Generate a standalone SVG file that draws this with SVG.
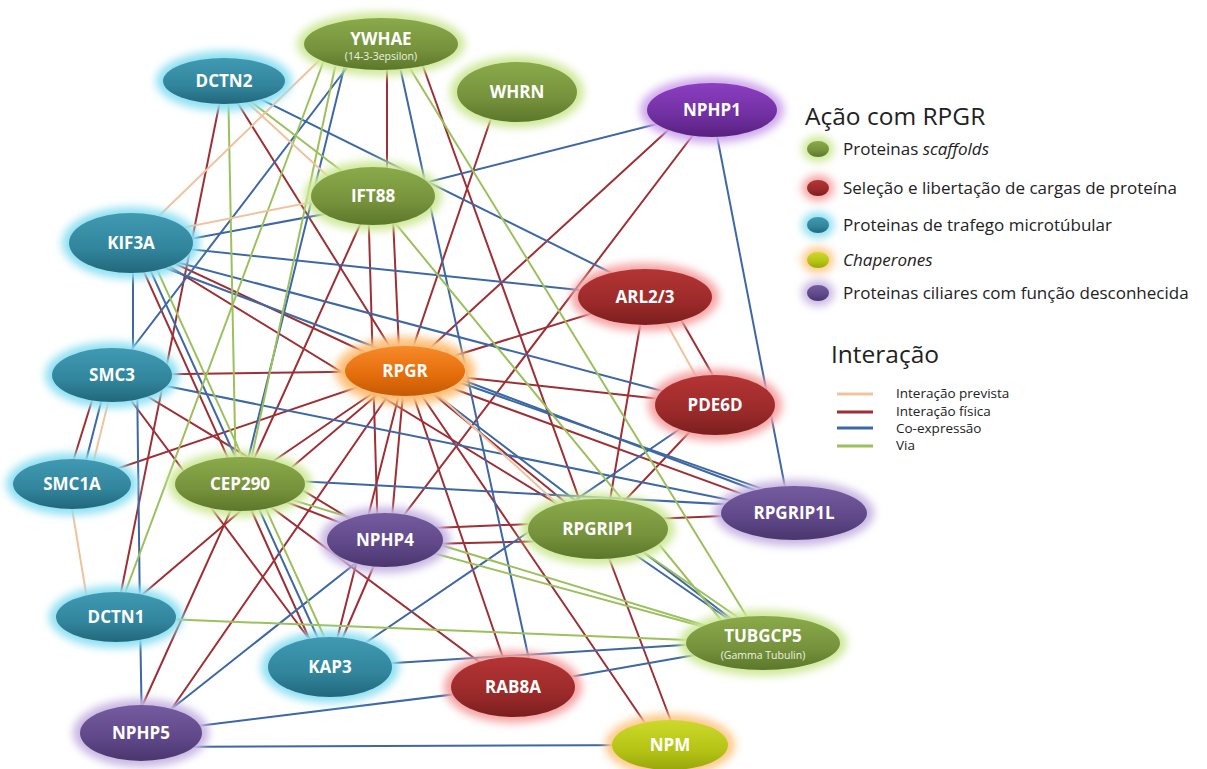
<svg xmlns="http://www.w3.org/2000/svg" width="1207" height="769" viewBox="0 0 1207 769">
<defs>
<filter id="blur" x="-30%" y="-40%" width="160%" height="180%"><feGaussianBlur stdDeviation="4"/></filter>
<linearGradient id="gGreen" x1="0" y1="0" x2="0" y2="1"><stop offset="0" stop-color="#8aaa4a"/><stop offset="0.6" stop-color="#76923c"/><stop offset="1" stop-color="#5b772a"/></linearGradient>
<linearGradient id="gTeal" x1="0" y1="0" x2="0" y2="1"><stop offset="0" stop-color="#409ab2"/><stop offset="0.6" stop-color="#31859c"/><stop offset="1" stop-color="#22677b"/></linearGradient>
<linearGradient id="gRed" x1="0" y1="0" x2="0" y2="1"><stop offset="0" stop-color="#b43434"/><stop offset="0.6" stop-color="#9c2a2a"/><stop offset="1" stop-color="#7a1e1e"/></linearGradient>
<linearGradient id="gOrange" x1="0" y1="0" x2="0" y2="1"><stop offset="0" stop-color="#f78a2a"/><stop offset="0.6" stop-color="#e46c0a"/><stop offset="1" stop-color="#c45a05"/></linearGradient>
<linearGradient id="gPurple" x1="0" y1="0" x2="0" y2="1"><stop offset="0" stop-color="#755ca0"/><stop offset="0.6" stop-color="#5f4788"/><stop offset="1" stop-color="#4a366d"/></linearGradient>
<linearGradient id="gViolet" x1="0" y1="0" x2="0" y2="1"><stop offset="0" stop-color="#8c3ec2"/><stop offset="0.6" stop-color="#7030a0"/><stop offset="1" stop-color="#57207e"/></linearGradient>
<linearGradient id="gYellow" x1="0" y1="0" x2="0" y2="1"><stop offset="0" stop-color="#ccd92c"/><stop offset="0.6" stop-color="#b5c414"/><stop offset="1" stop-color="#98a60c"/></linearGradient>
<style>
.edges line{stroke-width:2;fill:none;stroke-linecap:round}
.p{stroke:#9e2f34}
.c{stroke:#3d68a5}
.w{stroke:#9cc05c}
.b{stroke:#f0c39f}
.glow{filter:url(#blur)}
.green .glow{fill:#cfe89a}.green .body{fill:url(#gGreen)}
.teal .glow{fill:#8fe0f2}.teal .body{fill:url(#gTeal)}
.red .glow{fill:#f5a3a3}.red .body{fill:url(#gRed)}
.orange .glow{fill:#ffc07a}.orange .body{fill:url(#gOrange)}
.purple .glow{fill:#c8b6e2}.purple .body{fill:url(#gPurple)}
.violet .glow{fill:#cfa8ec}.violet .body{fill:url(#gViolet)}
.yellow .glow{fill:#ffc98a}.yellow .body{fill:url(#gYellow)}
.lbl{font-family:"Open Sans","Noto Sans",sans-serif;font-weight:bold;font-size:17px;fill:#fff;text-anchor:middle}
.sub{font-family:"Open Sans","Noto Sans",sans-serif;font-size:10.5px;fill:#eef3e2;text-anchor:middle}
.lg{font-family:"Open Sans","Noto Sans",sans-serif;fill:#222}
.lgt{font-size:24.5px}
.lgi{font-size:17px}
.lgs{font-size:13.5px}
.legline{stroke-width:3}
</style>
</defs>
<rect width="1207" height="769" fill="#fff"/>
<g id="connectors" class="edges">
<line class="p" x1="405" y1="371" x2="112" y2="375"/>
<line class="p" x1="405" y1="371" x2="72" y2="484"/>
<line class="p" x1="405" y1="371" x2="131" y2="243"/>
<line class="p" x1="405" y1="371" x2="224" y2="81"/>
<line class="p" x1="400" y1="371" x2="392" y2="196"/>
<line class="p" x1="405" y1="371" x2="500" y2="92"/>
<line class="p" x1="405" y1="371" x2="690" y2="110"/>
<line class="p" x1="405" y1="371" x2="645" y2="297"/>
<line class="p" x1="405" y1="371" x2="715" y2="405"/>
<line class="p" x1="405" y1="371" x2="794" y2="513"/>
<line class="p" x1="405" y1="371" x2="598" y2="529"/>
<line class="p" x1="405" y1="371" x2="240" y2="484"/>
<line class="p" x1="405" y1="371" x2="390" y2="540"/>
<line class="p" x1="405" y1="371" x2="330" y2="667"/>
<line class="p" x1="405" y1="371" x2="513" y2="687"/>
<line class="p" x1="405" y1="371" x2="155" y2="733"/>
<line class="p" x1="405" y1="371" x2="116" y2="617"/>
<line class="p" x1="405" y1="371" x2="660" y2="745"/>
<line class="p" x1="387" y1="44" x2="387" y2="196"/>
<line class="p" x1="415" y1="44" x2="590" y2="529"/>
<line class="p" x1="368" y1="196" x2="378" y2="540"/>
<line class="p" x1="373" y1="196" x2="130" y2="733"/>
<line class="p" x1="712" y1="110" x2="385" y2="540"/>
<line class="p" x1="224" y1="81" x2="116" y2="617"/>
<line class="p" x1="100" y1="375" x2="66" y2="484"/>
<line class="p" x1="112" y1="375" x2="330" y2="667"/>
<line class="p" x1="131" y1="243" x2="322" y2="667"/>
<line class="p" x1="240" y1="484" x2="385" y2="540"/>
<line class="p" x1="240" y1="484" x2="513" y2="687"/>
<line class="p" x1="385" y1="540" x2="330" y2="667"/>
<line class="p" x1="385" y1="530" x2="794" y2="513"/>
<line class="p" x1="385" y1="545" x2="598" y2="540"/>
<line class="p" x1="668" y1="297" x2="730" y2="405"/>
<line class="p" x1="645" y1="297" x2="605" y2="529"/>
<line class="p" x1="715" y1="405" x2="598" y2="529"/>
<line class="p" x1="598" y1="529" x2="680" y2="745"/>
<line class="p" x1="131" y1="243" x2="598" y2="529"/>
<line class="p" x1="112" y1="375" x2="385" y2="540"/>
<line class="c" x1="133" y1="243" x2="133" y2="375"/>
<line class="c" x1="131" y1="250" x2="373" y2="205"/>
<line class="c" x1="131" y1="243" x2="645" y2="297"/>
<line class="c" x1="131" y1="250" x2="715" y2="405"/>
<line class="c" x1="131" y1="255" x2="794" y2="505"/>
<line class="c" x1="138" y1="243" x2="331" y2="667"/>
<line class="c" x1="224" y1="81" x2="660" y2="297"/>
<line class="c" x1="373" y1="196" x2="712" y2="110"/>
<line class="c" x1="712" y1="110" x2="790" y2="513"/>
<line class="c" x1="365" y1="44" x2="112" y2="375"/>
<line class="c" x1="350" y1="44" x2="242" y2="484"/>
<line class="c" x1="395" y1="44" x2="535" y2="687"/>
<line class="c" x1="108" y1="375" x2="80" y2="484"/>
<line class="c" x1="137" y1="375" x2="140" y2="617"/>
<line class="c" x1="112" y1="375" x2="794" y2="513"/>
<line class="c" x1="240" y1="478" x2="794" y2="508"/>
<line class="c" x1="140" y1="617" x2="142" y2="733"/>
<line class="c" x1="141" y1="733" x2="385" y2="540"/>
<line class="c" x1="141" y1="733" x2="513" y2="687"/>
<line class="c" x1="141" y1="747" x2="670" y2="745"/>
<line class="c" x1="330" y1="667" x2="763" y2="640"/>
<line class="c" x1="330" y1="667" x2="715" y2="405"/>
<line class="c" x1="513" y1="687" x2="763" y2="643"/>
<line class="c" x1="598" y1="529" x2="763" y2="643"/>
<line class="c" x1="405" y1="371" x2="763" y2="643"/>
<line class="c" x1="410" y1="365" x2="794" y2="500"/>
<line class="w" x1="224" y1="81" x2="360" y2="185"/>
<line class="w" x1="228" y1="81" x2="236" y2="484"/>
<line class="w" x1="340" y1="44" x2="246" y2="484"/>
<line class="w" x1="330" y1="44" x2="116" y2="617"/>
<line class="w" x1="395" y1="44" x2="763" y2="643"/>
<line class="w" x1="373" y1="196" x2="740" y2="643"/>
<line class="w" x1="145" y1="243" x2="338" y2="667"/>
<line class="w" x1="385" y1="540" x2="763" y2="643"/>
<line class="w" x1="116" y1="617" x2="763" y2="643"/>
<line class="w" x1="610" y1="529" x2="775" y2="643"/>
<line class="w" x1="240" y1="484" x2="763" y2="643"/>
<line class="b" x1="131" y1="243" x2="330" y2="50"/>
<line class="b" x1="131" y1="238" x2="373" y2="190"/>
<line class="b" x1="224" y1="81" x2="345" y2="192"/>
<line class="b" x1="115" y1="375" x2="88" y2="484"/>
<line class="b" x1="68" y1="484" x2="90" y2="617"/>
<line class="b" x1="652" y1="297" x2="712" y2="405"/>
<line class="b" x1="412" y1="371" x2="585" y2="529"/>
</g>
<g id="n-YWHAE" class="green"><ellipse class="glow" cx="381" cy="44" rx="84" ry="32"/><ellipse class="body" cx="381" cy="44" rx="77" ry="26"/><text class="lbl" x="381" y="45">YWHAE</text><text class="sub" x="381" y="60">(14-3-3epsilon)</text></g>
<g id="n-DCTN2" class="teal"><ellipse class="glow" cx="224" cy="81" rx="68" ry="30"/><ellipse class="body" cx="224" cy="81" rx="61" ry="23"/><text class="lbl" x="224" y="87">DCTN2</text></g>
<g id="n-WHRN" class="green"><ellipse class="glow" cx="517" cy="92" rx="67" ry="36"/><ellipse class="body" cx="517" cy="92" rx="60" ry="30"/><text class="lbl" x="517" y="98">WHRN</text></g>
<g id="n-NPHP1" class="violet"><ellipse class="glow" cx="712" cy="110" rx="72" ry="33"/><ellipse class="body" cx="712" cy="110" rx="65" ry="27"/><text class="lbl" x="712" y="116">NPHP1</text></g>
<g id="n-IFT88" class="green"><ellipse class="glow" cx="373" cy="196" rx="69" ry="35"/><ellipse class="body" cx="373" cy="196" rx="62" ry="29"/><text class="lbl" x="373" y="202">IFT88</text></g>
<g id="n-KIF3A" class="teal"><ellipse class="glow" cx="131" cy="243" rx="69" ry="36"/><ellipse class="body" cx="131" cy="243" rx="62" ry="30"/><text class="lbl" x="131" y="249">KIF3A</text></g>
<g id="n-ARL23" class="red"><ellipse class="glow" cx="645" cy="297" rx="74" ry="34"/><ellipse class="body" cx="645" cy="297" rx="67" ry="28"/><text class="lbl" x="645" y="303">ARL2/3</text></g>
<g id="n-SMC3" class="teal"><ellipse class="glow" cx="112" cy="375" rx="67" ry="33"/><ellipse class="body" cx="112" cy="375" rx="60" ry="27"/><text class="lbl" x="112" y="381">SMC3</text></g>
<g id="n-RPGR" class="orange"><ellipse class="glow" cx="405" cy="371" rx="70" ry="34"/><ellipse class="body" cx="405" cy="371" rx="60" ry="25"/><text class="lbl" x="405" y="377">RPGR</text></g>
<g id="n-PDE6D" class="red"><ellipse class="glow" cx="715" cy="405" rx="67" ry="36"/><ellipse class="body" cx="715" cy="405" rx="60" ry="30"/><text class="lbl" x="715" y="411">PDE6D</text></g>
<g id="n-SMC1A" class="teal"><ellipse class="glow" cx="72" cy="484" rx="66" ry="31"/><ellipse class="body" cx="72" cy="484" rx="59" ry="25"/><text class="lbl" x="72" y="490">SMC1A</text></g>
<g id="n-CEP290" class="green"><ellipse class="glow" cx="240" cy="484" rx="72" ry="33"/><ellipse class="body" cx="240" cy="484" rx="65" ry="27"/><text class="lbl" x="240" y="490">CEP290</text></g>
<g id="n-RPGRIP1L" class="purple"><ellipse class="glow" cx="794" cy="513" rx="80" ry="33"/><ellipse class="body" cx="794" cy="513" rx="73" ry="27"/><text class="lbl" x="794" y="519">RPGRIP1L</text></g>
<g id="n-NPHP4" class="purple"><ellipse class="glow" cx="385" cy="540" rx="65" ry="33"/><ellipse class="body" cx="385" cy="540" rx="58" ry="27"/><text class="lbl" x="385" y="546">NPHP4</text></g>
<g id="n-RPGRIP1" class="green"><ellipse class="glow" cx="598" cy="529" rx="77" ry="36"/><ellipse class="body" cx="598" cy="529" rx="70" ry="30"/><text class="lbl" x="598" y="535">RPGRIP1</text></g>
<g id="n-DCTN1" class="teal"><ellipse class="glow" cx="116" cy="617" rx="67" ry="31"/><ellipse class="body" cx="116" cy="617" rx="60" ry="25"/><text class="lbl" x="116" y="623">DCTN1</text></g>
<g id="n-TUBGCP5" class="green"><ellipse class="glow" cx="763" cy="643" rx="84" ry="33"/><ellipse class="body" cx="763" cy="643" rx="77" ry="27"/><text class="lbl" x="763" y="642">TUBGCP5</text><text class="sub" x="763" y="659">(Gamma Tubulin)</text></g>
<g id="n-KAP3" class="teal"><ellipse class="glow" cx="330" cy="667" rx="69" ry="36"/><ellipse class="body" cx="330" cy="667" rx="62" ry="30"/><text class="lbl" x="330" y="673">KAP3</text></g>
<g id="n-RAB8A" class="red"><ellipse class="glow" cx="513" cy="687" rx="69" ry="36"/><ellipse class="body" cx="513" cy="687" rx="62" ry="30"/><text class="lbl" x="513" y="693">RAB8A</text></g>
<g id="n-NPHP5" class="purple"><ellipse class="glow" cx="141" cy="733" rx="68" ry="34"/><ellipse class="body" cx="141" cy="733" rx="61" ry="28"/><text class="lbl" x="141" y="739">NPHP5</text></g>
<g id="n-NPM" class="yellow"><ellipse class="glow" cx="670" cy="745" rx="65" ry="31"/><ellipse class="body" cx="670" cy="745" rx="58" ry="25"/><text class="lbl" x="670" y="751">NPM</text></g>
<g id="legend">
<text class="lg lgt" x="805" y="125">Ação com RPGR</text>
<g class="green"><ellipse class="glow" cx="818" cy="149" rx="16" ry="13"/><ellipse class="body" cx="818" cy="149" rx="11" ry="8"/></g>
<text class="lg lgi" x="843" y="155">Proteinas <tspan font-style="italic">scaffolds</tspan></text>
<g class="red"><ellipse class="glow" cx="818" cy="188" rx="16" ry="13"/><ellipse class="body" cx="818" cy="188" rx="11" ry="8"/></g>
<text class="lg lgi" x="843" y="194">Seleção e libertação de cargas de proteína</text>
<g class="teal"><ellipse class="glow" cx="818" cy="225" rx="16" ry="13"/><ellipse class="body" cx="818" cy="225" rx="11" ry="8"/></g>
<text class="lg lgi" x="843" y="231">Proteinas de trafego microtúbular</text>
<g class="yellow"><ellipse class="glow" cx="818" cy="260" rx="16" ry="13"/><ellipse class="body" cx="818" cy="260" rx="11" ry="8"/></g>
<text class="lg lgi" x="843" y="266" font-style="italic">Chaperones</text>
<g class="purple"><ellipse class="glow" cx="818" cy="293" rx="16" ry="13"/><ellipse class="body" cx="818" cy="293" rx="11" ry="8"/></g>
<text class="lg lgi" x="843" y="299">Proteinas ciliares com função desconhecida</text>
<text class="lg lgt" x="831" y="363">Interação</text>
<line class="b legline" x1="837" y1="394" x2="873" y2="394"/>
<line class="p legline" x1="837" y1="412" x2="873" y2="412"/>
<line class="c legline" x1="837" y1="428" x2="873" y2="428"/>
<line class="w legline" x1="837" y1="446" x2="873" y2="446"/>
<text class="lg lgs" x="896" y="398">Interação prevista</text>
<text class="lg lgs" x="896" y="416">Interação física</text>
<text class="lg lgs" x="896" y="433">Co-expressão</text>
<text class="lg lgs" x="896" y="450">Via</text>
</g>
</svg>
